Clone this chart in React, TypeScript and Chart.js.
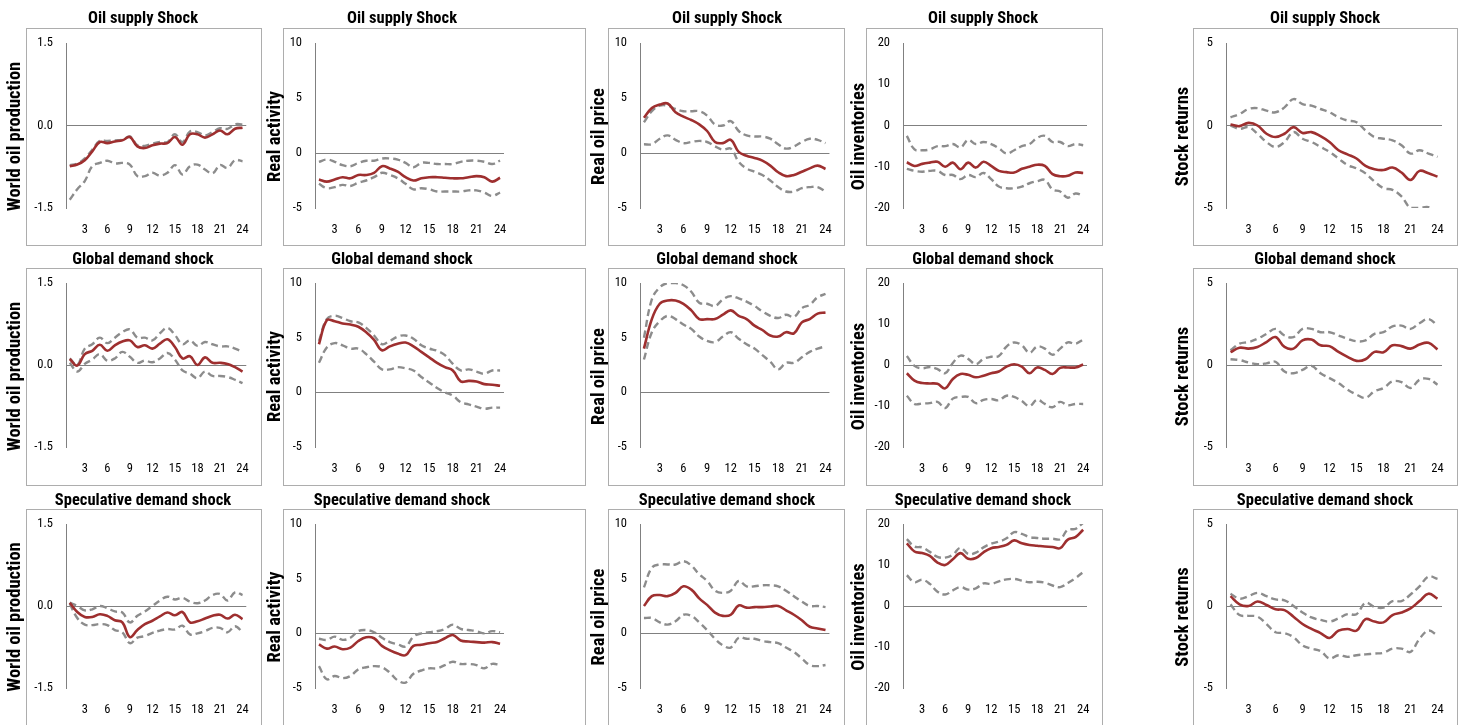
import React, { useEffect, useRef } from 'react';
import { Chart, registerables } from 'chart.js';

Chart.register(...registerables);

// ---------- categories / labels ----------
const horizons = ['1', '2', '3', '4', '5', '6', '7', '8', '9', '10', '11', '12', '13', '14', '15', '16', '17', '18', '19', '20', '21', '22', '23', '24'];
const shockTitles = ['Oil supply Shock', 'Global demand shock', 'Speculative demand shock'];
const variableNames = ['World oil production', 'Real activity', 'Real oil price', 'Oil inventories', 'Stock returns'];
const yMins = [-1.5, -5, -5, -20, -5];
const yMaxs = [1.5, 10, 10, 20, 5];
const ySteps = [1.5, 5, 5, 10, 5];
const yDecimals = [1, 0, 0, 0, 0];

// ---------- Oil supply shock ----------
const supplyProdIrf = [-0.74, -0.71, -0.63, -0.47, -0.30, -0.32, -0.29, -0.27, -0.21, -0.38, -0.41, -0.36, -0.33, -0.32, -0.21, -0.35, -0.16, -0.16, -0.22, -0.16, -0.09, -0.16, -0.06, -0.04];
const supplyProdHi = [-0.72, -0.69, -0.60, -0.44, -0.28, -0.28, -0.27, -0.26, -0.20, -0.36, -0.37, -0.33, -0.30, -0.30, -0.16, -0.30, -0.11, -0.12, -0.18, -0.12, -0.05, -0.06, 0.02, 0.02];
const supplyProdLo = [-1.35, -1.16, -1.01, -0.74, -0.68, -0.64, -0.69, -0.68, -0.71, -0.92, -0.92, -0.86, -0.91, -0.86, -0.72, -0.89, -0.74, -0.71, -0.80, -0.87, -0.72, -0.77, -0.63, -0.65];

const supplyActIrf = [-2.4, -2.6, -2.4, -2.2, -2.3, -2.0, -2.0, -1.8, -1.2, -1.4, -1.7, -2.2, -2.5, -2.3, -2.2, -2.2, -2.25, -2.3, -2.3, -2.2, -2.1, -2.2, -2.6, -2.25];
const supplyActHi = [-0.8, -0.6, -0.8, -1.1, -1.2, -0.9, -0.7, -0.7, -0.5, -0.5, -0.6, -0.9, -1.3, -0.9, -0.9, -1.0, -1.0, -1.0, -0.8, -0.7, -0.7, -0.8, -1.0, -0.7];
const supplyActLo = [-2.8, -3.2, -3.1, -2.9, -3.0, -2.7, -2.5, -2.2, -1.8, -2.0, -2.3, -2.8, -3.3, -3.2, -3.3, -3.5, -3.5, -3.5, -3.5, -3.4, -3.4, -3.6, -3.9, -3.6];

const supplyPriceIrf = [3.2, 4.1, 4.4, 4.5, 3.7, 3.3, 3.0, 2.6, 2.0, 1.0, 0.9, 1.2, 0.1, -0.25, -0.45, -0.7, -1.15, -1.75, -2.1, -2.0, -1.7, -1.4, -1.15, -1.45];
const supplyPriceHi = [2.8, 3.8, 4.3, 4.3, 4.0, 3.8, 3.8, 3.8, 3.4, 2.6, 2.5, 2.9, 2.0, 1.6, 1.5, 1.5, 1.3, 0.8, 0.4, 0.6, 1.0, 1.3, 1.2, 0.9];
const supplyPriceLo = [0.8, 0.8, 1.3, 1.6, 1.2, 0.9, 1.0, 1.1, 1.0, 0.6, 0.3, 0.4, -0.8, -1.4, -1.7, -2.0, -2.5, -3.1, -3.5, -3.5, -3.2, -3.1, -3.1, -3.5];

const supplyInvIrf = [-8.9, -9.8, -9.3, -9.0, -8.8, -10.0, -9.0, -10.6, -9.0, -10.2, -8.8, -9.8, -11.0, -11.3, -11.4, -10.5, -10.0, -9.5, -9.8, -11.8, -12.3, -12.2, -11.4, -11.5];
const supplyInvHi = [-2.5, -5.8, -6.0, -5.8, -5.0, -5.0, -4.5, -5.3, -3.5, -4.5, -4.0, -4.5, -5.5, -6.8, -6.0, -5.0, -4.5, -3.0, -2.5, -4.0, -4.0, -5.0, -4.5, -4.8];
const supplyInvLo = [-10.5, -11.0, -11.2, -11.0, -11.0, -12.0, -12.0, -13.0, -12.0, -12.5, -11.5, -13.0, -14.8, -15.2, -15.2, -14.8, -14.0, -13.5, -13.2, -15.5, -16.0, -17.5, -16.5, -17.0];

const supplyStockIrf = [0.06, -0.04, 0.16, 0.0, -0.5, -0.7, -0.5, -0.1, -0.45, -0.4, -0.65, -1.0, -1.5, -1.75, -2.0, -2.45, -2.65, -2.7, -2.55, -2.85, -3.3, -2.75, -2.9, -3.1];
const supplyStockHi = [0.5, 0.7, 1.0, 1.05, 0.9, 0.8, 1.1, 1.6, 1.3, 1.2, 1.0, 0.8, 0.5, 0.3, 0.2, -0.3, -0.7, -0.8, -0.9, -1.2, -1.7, -1.5, -1.7, -1.9];
const supplyStockLo = [0.0, -0.2, -0.1, -0.5, -1.0, -1.3, -1.0, -0.4, -0.8, -1.0, -1.3, -1.6, -2.0, -2.4, -2.6, -2.9, -3.4, -3.8, -3.9, -4.3, -5.0, -5.0, -4.95, -5.3];

// ---------- Global demand shock ----------
const globalProdIrf = [0.11, -0.01, 0.2, 0.26, 0.37, 0.26, 0.36, 0.43, 0.45, 0.33, 0.36, 0.3, 0.39, 0.47, 0.33, 0.12, 0.16, 0.0, 0.14, 0.04, 0.04, 0.02, -0.04, -0.12];
const globalProdHi = [0.12, 0.0, 0.3, 0.38, 0.5, 0.4, 0.5, 0.6, 0.65, 0.5, 0.5, 0.45, 0.58, 0.68, 0.55, 0.38, 0.45, 0.35, 0.42, 0.38, 0.34, 0.34, 0.3, 0.24];
const globalProdLo = [0.04, -0.12, 0.02, 0.1, 0.2, 0.08, 0.12, 0.24, 0.15, 0.04, 0.08, 0.05, 0.12, 0.22, 0.1, -0.1, -0.16, -0.24, -0.12, -0.2, -0.2, -0.22, -0.27, -0.33];

const globalActIrf = [4.4, 6.6, 6.5, 6.3, 6.2, 6.0, 5.5, 4.8, 3.85, 4.2, 4.45, 4.55, 4.2, 3.7, 3.2, 2.7, 2.3, 2.0, 1.0, 1.05, 1.0, 0.75, 0.7, 0.6];
const globalActHi = [4.7, 6.7, 7.0, 6.8, 6.5, 6.4, 5.9, 5.2, 4.4, 4.7, 5.1, 5.2, 4.9, 4.3, 4.0, 3.8, 3.4, 2.6, 2.0, 2.1, 1.9, 1.7, 2.0, 2.0];
const globalActLo = [2.7, 4.1, 4.5, 4.3, 4.0, 4.0, 3.5, 2.8, 2.1, 2.1, 2.3, 2.2, 2.0, 1.4, 0.9, 0.4, 0.0, -0.3, -0.9, -1.1, -1.3, -1.5, -1.4, -1.4];

const globalPriceIrf = [4.0, 6.7, 8.1, 8.4, 8.4, 8.1, 7.5, 6.7, 6.7, 6.7, 7.1, 7.5, 7.0, 6.7, 6.1, 5.7, 5.2, 5.1, 5.5, 5.4, 6.4, 6.7, 7.2, 7.3];
const globalPriceHi = [5.0, 8.5, 9.6, 10.0, 10.0, 9.8, 9.2, 8.2, 8.1, 7.9, 8.5, 8.8, 8.6, 8.3, 7.9, 7.4, 7.0, 6.8, 7.1, 6.9, 7.7, 8.0, 8.7, 9.0];
const globalPriceLo = [3.0, 5.5, 6.5, 7.0, 6.7, 6.2, 5.8, 5.1, 4.7, 4.6, 5.1, 5.5, 4.9, 4.4, 4.0, 3.4, 2.8, 2.1, 2.7, 2.7, 3.2, 3.7, 4.0, 4.2];

const globalInvIrf = [-2.0, -3.8, -4.4, -4.5, -4.6, -5.7, -3.4, -2.2, -2.4, -3.0, -2.6, -2.0, -1.6, -0.4, 0.2, -0.4, -2.0, -0.6, -1.2, -2.2, -0.7, -0.6, -0.6, 0.1];
const globalInvHi = [2.2, -0.2, -0.8, -0.5, -1.0, -2.0, 0.5, 2.3, 1.5, 0.2, 1.5, 2.0, 2.2, 4.5, 5.5, 4.8, 3.0, 4.5, 4.0, 2.5, 4.0, 5.5, 5.2, 6.2];
const globalInvLo = [-7.5, -9.5, -9.4, -9.3, -9.0, -10.5, -8.2, -7.8, -7.8, -9.3, -8.5, -8.3, -8.6, -7.5, -7.8, -8.8, -10.0, -8.5, -9.5, -10.3, -9.0, -9.8, -9.5, -9.5];

const globalStockIrf = [0.78, 1.05, 1.0, 1.1, 1.4, 1.7, 1.1, 1.0, 1.5, 1.55, 1.2, 1.15, 0.8, 0.5, 0.25, 0.35, 0.8, 0.78, 1.2, 1.15, 1.0, 1.25, 1.35, 0.95];
const globalStockHi = [0.9, 1.3, 1.4, 1.6, 1.9, 2.2, 1.8, 1.7, 2.2, 2.2, 2.0, 2.0, 1.8, 1.6, 1.45, 1.5, 1.9, 2.0, 2.35, 2.4, 2.2, 2.55, 2.8, 2.4];
const globalStockLo = [0.35, 0.3, 0.15, 0.05, 0.1, 0.2, -0.4, -0.5, -0.3, -0.05, -0.5, -0.8, -1.1, -1.5, -1.8, -2.0, -1.6, -1.4, -1.0, -1.05, -1.4, -0.9, -0.85, -1.2];

// ---------- Speculative demand shock ----------
const specProdIrf = [0.06, -0.11, -0.2, -0.2, -0.15, -0.18, -0.26, -0.3, -0.57, -0.44, -0.33, -0.27, -0.19, -0.12, -0.17, -0.11, -0.3, -0.28, -0.23, -0.18, -0.16, -0.23, -0.16, -0.24];
const specProdHi = [0.06, 0.0, -0.08, -0.06, 0.0, -0.04, -0.1, -0.12, -0.3, -0.18, -0.1, 0.0, 0.1, 0.17, 0.12, 0.15, 0.08, 0.05, 0.1, 0.2, 0.22, 0.1, 0.25, 0.2];
const specProdLo = [0.04, -0.22, -0.34, -0.35, -0.33, -0.35, -0.44, -0.48, -0.68, -0.58, -0.55, -0.49, -0.45, -0.42, -0.43, -0.36, -0.52, -0.5, -0.46, -0.4, -0.4, -0.48, -0.37, -0.48];

const specActIrf = [-1.0, -1.4, -1.2, -1.45, -1.3, -0.7, -0.35, -0.45, -1.15, -1.55, -1.85, -2.0, -1.15, -1.05, -0.9, -0.8, -0.45, -0.15, -0.65, -0.75, -0.8, -0.85, -0.8, -0.95];
const specActHi = [-0.5, -0.6, -0.3, -0.6, -0.4, 0.2, 0.3, 0.1, -0.4, -0.8, -1.0, -1.2, -0.3, 0.0, 0.1, 0.2, 0.4, 0.8, 0.4, 0.3, 0.2, 0.0, 0.2, 0.1];
const specActLo = [-3.0, -4.2, -3.9, -4.1, -3.9, -3.3, -3.1, -3.0, -3.1, -3.6, -4.3, -4.5, -3.7, -3.4, -3.2, -3.2, -2.9, -2.6, -2.8, -2.8, -2.9, -3.2, -2.8, -2.9];

const specPriceIrf = [2.5, 3.4, 3.5, 3.4, 3.7, 4.3, 4.0, 3.2, 2.6, 1.9, 1.6, 1.7, 2.55, 2.35, 2.4, 2.4, 2.45, 2.5, 2.1, 1.7, 1.2, 0.6, 0.45, 0.3];
const specPriceHi = [4.2, 6.0, 6.3, 6.3, 6.3, 6.6, 6.2, 5.4, 4.8, 3.9, 3.7, 3.9, 4.8, 4.3, 4.3, 4.4, 4.4, 4.3, 3.9, 3.4, 2.9, 2.5, 2.5, 2.4];
const specPriceLo = [1.4, 1.4, 1.0, 0.8, 1.1, 1.7, 1.6, 1.0, 0.3, -0.5, -1.1, -1.3, -0.4, -0.5, -0.5, -0.7, -0.8, -0.9, -1.3, -1.7, -2.3, -2.9, -3.0, -2.9];

const specInvIrf = [15.3, 13.3, 12.9, 12.2, 10.6, 10.0, 11.4, 12.9, 11.5, 11.7, 13.1, 14.1, 14.4, 14.9, 16.0, 15.3, 14.9, 14.7, 14.5, 14.4, 14.1, 16.2, 16.8, 18.6];
const specInvHi = [16.3, 14.5, 14.3, 13.2, 12.0, 11.8, 12.5, 14.2, 12.7, 13.0, 14.3, 15.2, 15.7, 16.5, 18.0, 17.6, 16.8, 16.6, 16.4, 16.4, 16.3, 18.6, 18.8, 20.3];
const specInvLo = [7.5, 5.8, 6.4, 5.4, 3.5, 2.8, 3.8, 4.6, 4.0, 4.3, 5.5, 5.4, 6.0, 6.5, 6.6, 6.2, 5.8, 5.9, 5.7, 5.0, 4.6, 5.6, 6.8, 8.3];

const specStockIrf = [0.6, 0.1, 0.0, 0.27, 0.06, -0.2, -0.25, -0.65, -1.1, -1.4, -1.65, -1.95, -1.5, -1.4, -1.5, -0.8, -0.95, -1.0, -0.55, -0.4, -0.15, 0.3, 0.75, 0.45];
const specStockHi = [0.75, 0.45, 0.6, 0.8, 0.6, 0.4, 0.35, 0.0, -0.4, -0.7, -0.85, -0.95, -0.75, -0.5, -0.5, 0.2, -0.05, -0.1, 0.3, 0.3, 0.7, 1.2, 1.8, 1.65];
const specStockLo = [0.1, -0.55, -0.6, -0.65, -1.1, -1.6, -1.65, -1.9, -2.4, -2.6, -2.75, -3.2, -3.0, -3.1, -3.0, -2.95, -2.9, -2.85, -2.6, -2.6, -2.8, -2.0, -1.5, -1.8];

const panelData = [
  [
    [supplyProdIrf, supplyProdLo, supplyProdHi],
    [supplyActIrf, supplyActLo, supplyActHi],
    [supplyPriceIrf, supplyPriceLo, supplyPriceHi],
    [supplyInvIrf, supplyInvLo, supplyInvHi],
    [supplyStockIrf, supplyStockLo, supplyStockHi],
  ],
  [
    [globalProdIrf, globalProdLo, globalProdHi],
    [globalActIrf, globalActLo, globalActHi],
    [globalPriceIrf, globalPriceLo, globalPriceHi],
    [globalInvIrf, globalInvLo, globalInvHi],
    [globalStockIrf, globalStockLo, globalStockHi],
  ],
  [
    [specProdIrf, specProdLo, specProdHi],
    [specActIrf, specActLo, specActHi],
    [specPriceIrf, specPriceLo, specPriceHi],
    [specInvIrf, specInvLo, specInvHi],
    [specStockIrf, specStockLo, specStockHi],
  ],
];

// ---------- layout (page pixels) ----------
const ROWS = [
  { titleBase: 22.5, frameTop: 28, frameBottom: 245, axisTop: 43, axisBottom: 208 },
  { titleBase: 264, frameTop: 268, frameBottom: 485, axisTop: 283, axisBottom: 447 },
  { titleBase: 504.5, frameTop: 509, frameBottom: 727, axisTop: 524, axisBottom: 688 },
];
const COLS = [
  { frameL: 26, frameR: 261, axisX: 66, plotR: 249, titleX: 143, yTitleBase: 20 },
  { frameL: 283, frameR: 585, axisX: 315, plotR: 504, titleX: 402, yTitleBase: 280 },
  { frameL: 608, frameR: 844, axisX: 640, plotR: 831, titleX: 727, yTitleBase: 604 },
  { frameL: 866, frameR: 1102, axisX: 903, plotR: 1087, titleX: 983, yTitleBase: 864 },
  { frameL: 1193, frameR: 1457, axisX: 1226, plotR: 1442, titleX: 1325, yTitleBase: 1188 },
];

const FONT = "'Roboto Condensed', 'Liberation Sans Narrow', 'Arial Narrow', sans-serif";
const RED = '#9e2f2f';
const GRAY = '#8c8c8c';
const AXIS = '#808080';
const FRAME = '#adadad';
const TITLE_SIZE = 16.5;
const YTITLE_SIZE = 18.5;
const TICK_SIZE = 12.5;
const XAXIS_H = 36;
const DASH = [7, 4];

function Panel({ row, col }: { row: number; col: number }) {
  const ref = useRef<HTMLCanvasElement | null>(null);
  const r = ROWS[row];
  const c = COLS[col];
  const left = c.frameL - 26;
  const width = c.frameR + 2 - left;
  const top = r.frameTop - 28;
  const height = r.axisBottom + XAXIS_H - top;

  useEffect(() => {
    if (!ref.current) return;
    const [irf, lo, hi] = panelData[row][col];
    const yWidth = c.axisX - left;
    const dec = yDecimals[col];

    const textPlugin = {
      id: 'panelText',
      afterDraw(chart: any) {
        const ctx = chart.ctx;
        ctx.save();
        ctx.fillStyle = '#000';
        ctx.font = `bold ${TITLE_SIZE}px ${FONT}`;
        ctx.textAlign = 'center';
        ctx.textBaseline = 'alphabetic';
        ctx.fillText(shockTitles[row], c.titleX - left, r.titleBase - top);
        ctx.font = `bold ${YTITLE_SIZE}px ${FONT}`;
        ctx.translate(c.yTitleBase - left, (r.frameTop + Math.min(r.frameBottom, 725)) / 2 - top);
        ctx.rotate(-Math.PI / 2);
        ctx.fillText(variableNames[col], 0, 0);
        ctx.restore();
      },
    };

    const chart = new Chart(ref.current, {
      type: 'line',
      data: {
        labels: horizons,
        datasets: [
          { data: irf, borderColor: RED, borderWidth: 2.6, pointRadius: 0, tension: 0.4, fill: false },
          { data: hi, borderColor: GRAY, borderWidth: 2.4, borderDash: DASH, pointRadius: 0, tension: 0.4, fill: false },
          { data: lo, borderColor: GRAY, borderWidth: 2.4, borderDash: DASH, pointRadius: 0, tension: 0.4, fill: false },
        ],
      },
      options: {
        animation: false,
        responsive: false,
        events: [],
        layout: { padding: { left: 0, top: r.axisTop - top, bottom: 0, right: left + width - c.plotR } },
        plugins: {
          legend: { display: false },
          tooltip: { enabled: false },
          title: { display: false },
        },
        scales: {
          x: {
            type: 'category',
            offset: true,
            grid: { display: false, drawTicks: false },
            border: { display: false },
            ticks: {
              autoSkip: false,
              maxRotation: 0,
              minRotation: 0,
              padding: 14,
              color: '#000',
              font: { family: FONT, size: TICK_SIZE },
              callback: (_v: any, i: number) => ((i + 1) % 3 === 0 ? horizons[i] : ''),
            },
            afterFit: (s: any) => {
              s.height = XAXIS_H;
            },
          },
          y: {
            min: yMins[col],
            max: yMaxs[col],
            grid: {
              drawTicks: false,
              lineWidth: 1,
              color: (ctx: any) => (ctx.tick && Math.abs(ctx.tick.value) < 1e-9 ? AXIS : 'rgba(0,0,0,0)'),
            },
            border: { display: true, color: AXIS, width: 1 },
            ticks: {
              stepSize: ySteps[col],
              padding: 13,
              color: '#000',
              font: { family: FONT, size: TICK_SIZE },
              callback: (v: any) => Number(v).toFixed(dec),
            },
            title: { display: false },
            afterFit: (s: any) => {
              s.width = yWidth;
            },
          },
        },
      },
      plugins: [textPlugin],
    } as any);
    return () => chart.destroy();
  }, [row, col]);

  return (
    <canvas
      ref={ref}
      width={width}
      height={height}
      style={{ position: 'absolute', left, top, width, height }}
    />
  );
}

export default function App() {
  const frames: React.ReactNode[] = [];
  const panels: React.ReactNode[] = [];
  ROWS.forEach((r, ri) => {
    COLS.forEach((c, ci) => {
      frames.push(
        <div
          key={`f${ri}-${ci}`}
          style={{
            position: 'absolute',
            left: c.frameL,
            top: r.frameTop,
            width: c.frameR - c.frameL + 1,
            height: r.frameBottom - r.frameTop + 1,
            border: `1px solid ${FRAME}`,
            boxSizing: 'border-box',
          }}
        />
      );
      panels.push(<Panel key={`p${ri}-${ci}`} row={ri} col={ci} />);
    });
  });
  return (
    <div
      style={{
        position: 'absolute',
        left: 0,
        top: 0,
        width: 1468,
        height: 725,
        overflow: 'hidden',
        background: '#fff',
      }}
    >
      {frames}
      {panels}
    </div>
  );
}
